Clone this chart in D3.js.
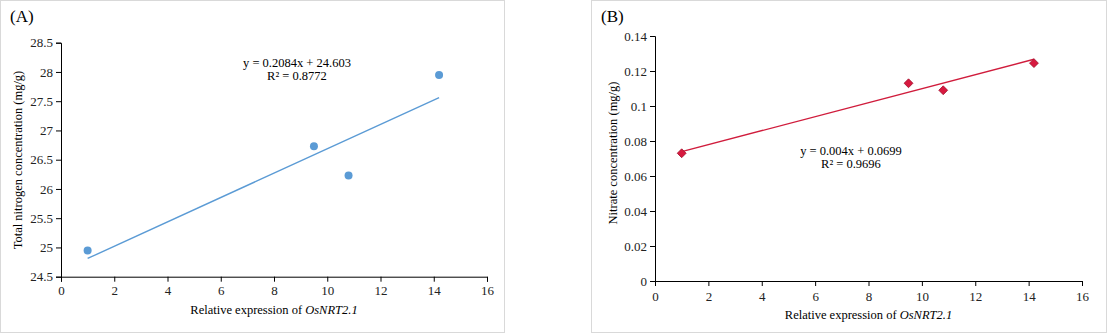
<!DOCTYPE html>
<html>
<head>
<meta charset="utf-8">
<script src="https://cdn.jsdelivr.net/npm/d3@7"></script>
<style>
  body { margin: 0; background: #fff; }
  svg text { font-family: "Liberation Serif", "Times New Roman", serif !important; }
  .axis path, .axis line { stroke: #000; }
  .axis text { font-size: 13px; fill: #222; }
</style>
</head>
<body>
<div id="chart"></div>
<script>
// Relative expression of OsNRT2.1 (x values, shared by both panels)
const expression = [1.0, 9.5, 10.8, 14.2];
// Panel A: total nitrogen concentration (mg/g)
const totalNitrogen = [24.95, 26.73, 26.23, 27.95];
// Panel B: nitrate concentration (mg/g)
const nitrate = [0.073, 0.113, 0.109, 0.1245];

const xTicks = [0, 2, 4, 6, 8, 10, 12, 14, 16];
const yTicksA = [24.5, 25, 25.5, 26, 26.5, 27, 27.5, 28, 28.5];
const yTicksB = [0, 0.02, 0.04, 0.06, 0.08, 0.1, 0.12, 0.14];

const trendA = { slope: 0.2084, intercept: 24.603, eq: "y = 0.2084x + 24.603", r2: "R² = 0.8772" };
const trendB = { slope: 0.004, intercept: 0.0699, eq: "y = 0.004x + 0.0699", r2: "R² = 0.9696" };

const W = 1108, H = 335;
const svg = d3.select("#chart").append("svg").attr("width", W).attr("height", H)
  .attr("font-family", "Liberation Serif, serif");

function drawPanel(cfg) {
  // panel frame
  svg.append("rect")
    .attr("x", cfg.frame[0] + 0.5).attr("y", 0.5)
    .attr("width", cfg.frame[1] - cfg.frame[0]).attr("height", 332)
    .attr("fill", "#fff").attr("stroke", "#d9d9d9");

  svg.append("text")
    .attr("x", cfg.frame[0] + 10).attr("y", 22)
    .style("font-size", "17px")
    .text(cfg.label);

  const x = d3.scaleLinear().domain([0, 16]).range([cfg.left, cfg.right]);
  const y = d3.scaleLinear().domain(cfg.yDomain).range([cfg.bottom, cfg.top]);

  svg.append("g")
    .attr("class", "axis")
    .attr("transform", `translate(0,${cfg.bottom})`)
    .call(d3.axisBottom(x).tickValues(xTicks).tickSize(5).tickSizeOuter(5).tickPadding(cfg.xPad).tickFormat(d3.format("d")))
    .attr("font-family", "Liberation Serif, serif");

  svg.append("g")
    .attr("class", "axis")
    .attr("transform", `translate(${cfg.left},0)`)
    .call(d3.axisLeft(y).tickValues(cfg.yTicks).tickSize(5).tickSizeOuter(5).tickFormat(d => String(+d.toFixed(3))))
    .attr("font-family", "Liberation Serif, serif");

  // trend line
  const x0 = d3.min(expression), x1 = d3.max(expression);
  svg.append("line")
    .attr("x1", x(x0)).attr("y1", y(cfg.trend.slope * x0 + cfg.trend.intercept))
    .attr("x2", x(x1)).attr("y2", y(cfg.trend.slope * x1 + cfg.trend.intercept))
    .attr("stroke", cfg.lineColor).attr("stroke-width", 1.4);

  // points
  const pts = expression.map((e, i) => [e, cfg.values[i]]);
  if (cfg.marker === "circle") {
    svg.selectAll(null).data(pts).enter().append("circle")
      .attr("cx", d => x(d[0])).attr("cy", d => y(d[1])).attr("r", 4)
      .attr("fill", cfg.pointColor);
  } else {
    const sym = d3.symbol().type(d3.symbolDiamond2).size(50);
    svg.selectAll(null).data(pts).enter().append("path")
      .attr("d", sym)
      .attr("transform", d => `translate(${x(d[0])},${y(d[1])})`)
      .attr("fill", cfg.pointColor).attr("stroke", "#a0102c").attr("stroke-width", 0.8);
  }

  // equation
  const eqG = svg.append("g").style("font-size", "12.5px").attr("text-anchor", "middle");
  eqG.append("text").attr("x", cfg.eqPos[0]).attr("y", cfg.eqPos[1]).text(cfg.trend.eq);
  eqG.append("text").attr("x", cfg.eqPos[0]).attr("y", cfg.eqPos[1] + 13).text(cfg.trend.r2);

  // axis titles
  const xt = svg.append("text")
    .attr("x", (cfg.left + cfg.right) / 2).attr("y", cfg.xTitleY)
    .attr("text-anchor", "middle").style("font-size", "12.5px");
  xt.append("tspan").text("Relative expression of ");
  xt.append("tspan").style("font-style", "italic").text("OsNRT2.1");

  svg.append("text")
    .attr("transform", `translate(${cfg.yTitlePos[0]},${cfg.yTitlePos[1]}) rotate(-90)`)
    .attr("text-anchor", "middle").style("font-size", "12.5px")
    .text(cfg.yTitle);
}

drawPanel({
  frame: [0, 504], label: "(A)",
  left: 61, right: 487, top: 42.7, bottom: 276.7,
  yDomain: [24.5, 28.5], yTicks: yTicksA, values: totalNitrogen,
  trend: trendA, lineColor: "#5b9bd5", pointColor: "#5b9bd5", marker: "circle",
  eqPos: [297, 67], xTitleY: 314, xPad: 4,
  yTitle: "Total nitrogen concentration (mg/g)", yTitlePos: [22, 160]
});

drawPanel({
  frame: [591, 1106], label: "(B)",
  left: 655, right: 1082, top: 36, bottom: 281,
  yDomain: [0, 0.14], yTicks: yTicksB, values: nitrate,
  trend: trendB, lineColor: "#d01c3c", pointColor: "#d7193f", marker: "diamond",
  eqPos: [851, 155], xTitleY: 319, xPad: 6,
  yTitle: "Nitrate concentration (mg/g)", yTitlePos: [617, 153]
});
</script>
</body>
</html>
